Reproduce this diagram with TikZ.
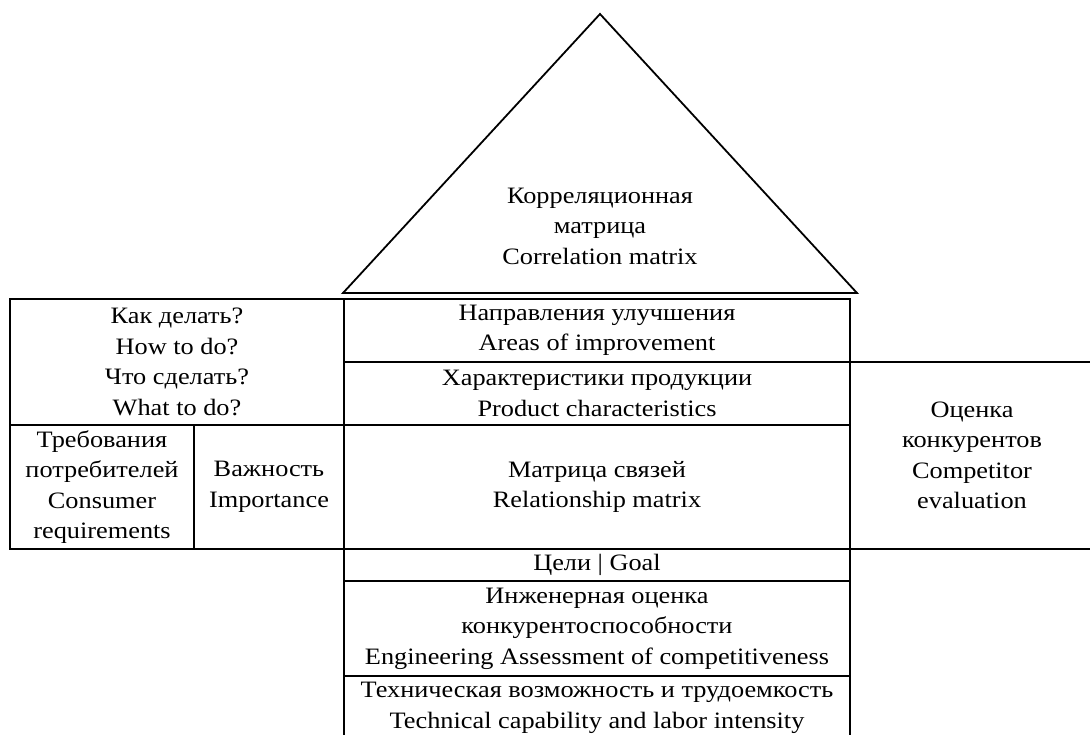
\documentclass[tikz,border=0pt]{standalone}
\usepackage{fontspec}
\setmainfont{Liberation Serif}[FakeStretch=1.12]
\usetikzlibrary{positioning}

\begin{document}
\begin{tikzpicture}[
    x=1pt, y=-1pt,
    font=\fontsize{23.5}{30.5}\selectfont,
    cell/.style={rectangle, draw=black, line width=1.8pt, inner sep=0pt, align=center},
    label/.style={inner sep=0pt, align=center}
]
\useasboundingbox (0,0) rectangle (1090,734);

% Roof: correlation matrix
\coordinate (apex) at (600,14);
\coordinate (roofL) at (343,293);
\coordinate (roofR) at (857,293);
\draw[line width=1.8pt, line join=miter] (roofL) -- (apex) -- (roofR) -- cycle;
\node[label] (corr) at (600,226) {Корреляционная\\ матрица\\ Correlation matrix};

% Left wing
\node[cell, minimum width=334pt, minimum height=126pt] (howwhat) at (177,362) {Как делать?\\ How to do?\\ Что сделать?\\ What to do?};
\node[cell, minimum width=184pt, minimum height=124pt] (needs) at (102,487) {Требования\\ потребителей\\ Consumer\\ requirements};
\node[cell, minimum width=150pt, minimum height=124pt] (weight) at (269,487) {Важность\\ Importance};

% Central column
\node[cell, minimum width=506pt, minimum height=63pt] (improve) at (597,330.5) {Направления улучшения\\ Areas of improvement};
\node[cell, minimum width=506pt, minimum height=63pt] (chars) at (597,393.5) {Характеристики продукции\\ Product characteristics};
\node[cell, minimum width=506pt, minimum height=124pt] (relmat) at (597,487) {Матрица связей\\ Relationship matrix};
\node[cell, minimum width=506pt, minimum height=32pt] (goal) at (597,565) {Цели | Goal};
\node[cell, minimum width=506pt, minimum height=95pt] (engin) at (597,628.5) {Инженерная оценка\\ конкурентоспособности\\ Engineering Assessment of competitiveness};
\node[cell, minimum width=506pt, minimum height=64pt] (techcap) at (597,708) {Техническая возможность и трудоемкость\\ Technical capability and labor intensity};

% Right wing
\node[cell, minimum width=244pt, minimum height=187pt] (rivals) at (972,455.5) {Оценка\\ конкурентов\\ Competitor\\ evaluation};

\end{tikzpicture}
\end{document}
